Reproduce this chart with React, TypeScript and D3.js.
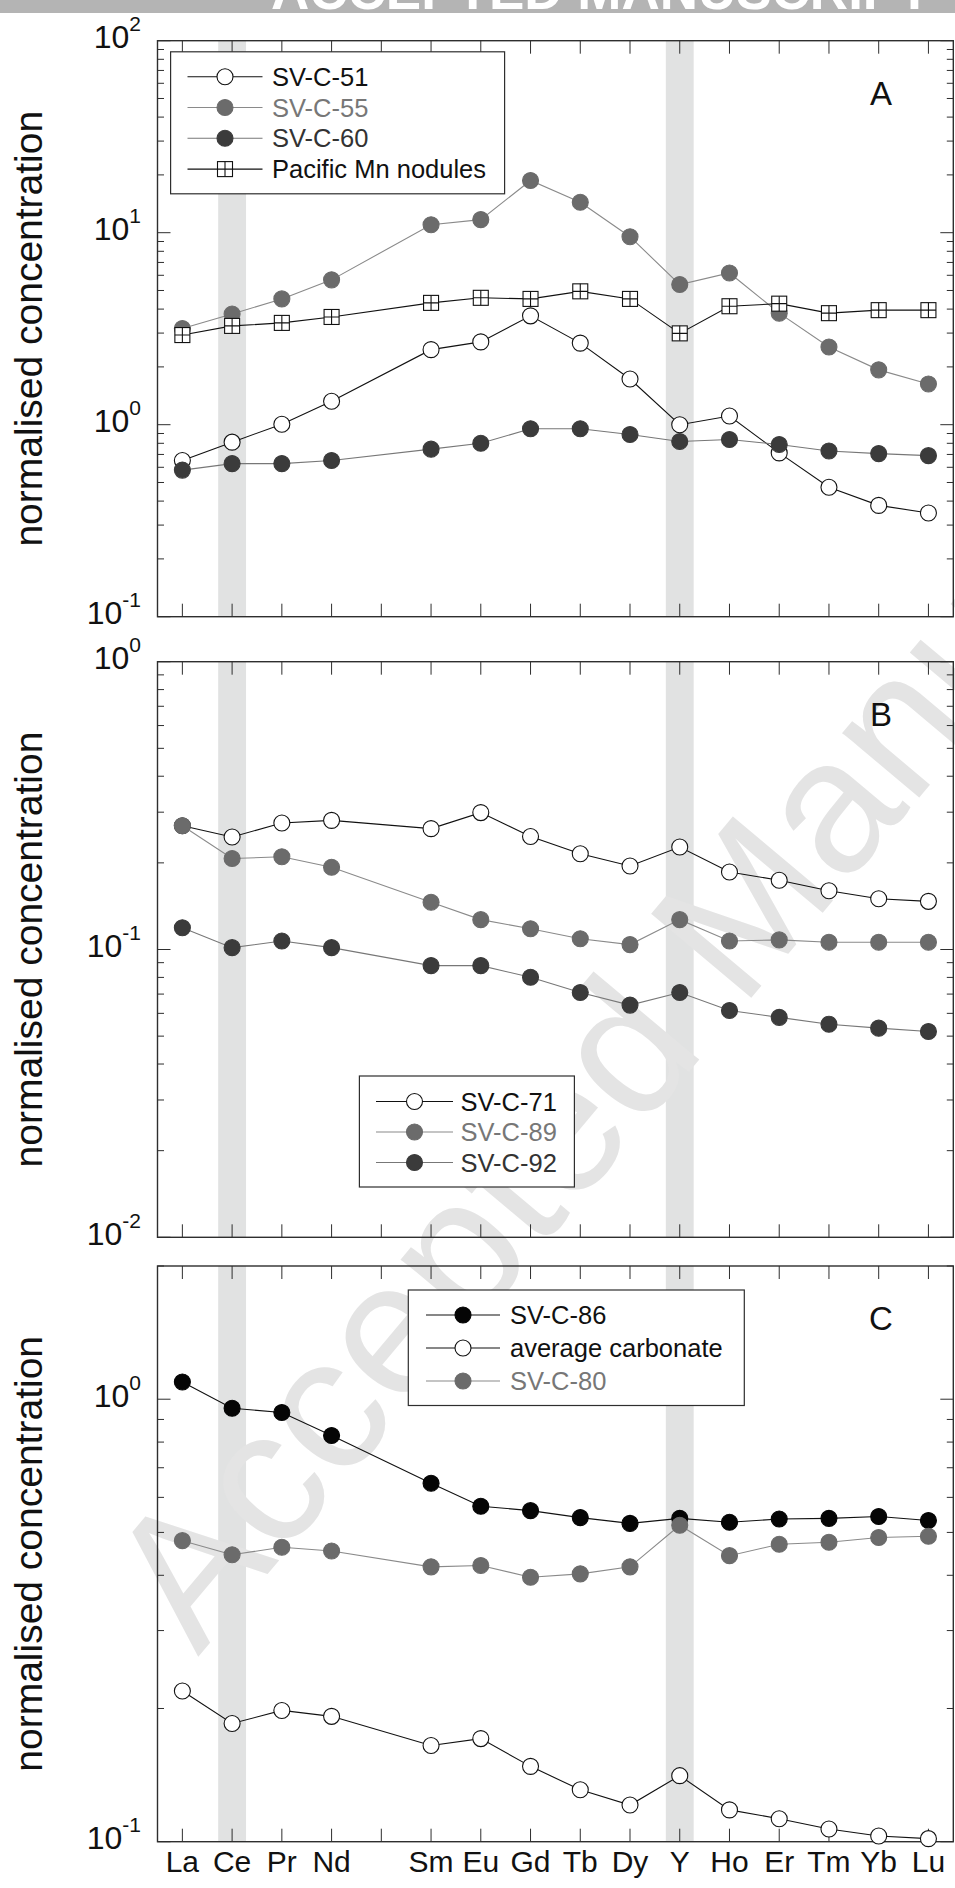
import { useEffect, useRef } from 'react'
import * as d3 from 'd3'

const W = 955, H = 1888
const FONT = 'Liberation Sans, Arial, Helvetica, sans-serif'

// REE + Y order on the x axis (Pm has a tick but no data / label)
const ELEMENTS = ['La', 'Ce', 'Pr', 'Nd', 'Pm', 'Sm', 'Eu', 'Gd', 'Tb', 'Dy', 'Y', 'Ho', 'Er', 'Tm', 'Yb', 'Lu']
const X_LABELS = ['La', 'Ce', 'Pr', 'Nd', '', 'Sm', 'Eu', 'Gd', 'Tb', 'Dy', 'Y', 'Ho', 'Er', 'Tm', 'Yb', 'Lu']
const BANDS = ['Ce', 'Y']

// Panel A
const svc51 = [0.651, 0.811, 1.006, 1.325, null, 2.46, 2.70, 3.69, 2.66, 1.73, 1.0, 1.11, 0.713, 0.472, 0.380, 0.347]
const svc55 = [3.17, 3.77, 4.52, 5.68, null, 11.0, 11.7, 18.7, 14.4, 9.53, 5.37, 6.17, 3.81, 2.54, 1.93, 1.63]
const svc60 = [0.580, 0.627, 0.627, 0.651, null, 0.746, 0.800, 0.952, 0.952, 0.889, 0.818, 0.837, 0.789, 0.730, 0.707, 0.690]
const pacificMn = [2.93, 3.27, 3.39, 3.64, null, 4.31, 4.58, 4.52, 4.95, 4.52, 2.99, 4.14, 4.27, 3.81, 3.95, 3.95]

// Panel B
const svc71 = [0.269, 0.246, 0.275, 0.281, null, 0.263, 0.299, 0.247, 0.215, 0.195, 0.227, 0.186, 0.174, 0.160, 0.150, 0.147]
const svc89 = [0.269, 0.207, 0.210, 0.193, null, 0.146, 0.127, 0.118, 0.109, 0.104, 0.127, 0.107, 0.108, 0.106, 0.106, 0.106]
const svc92 = [0.119, 0.1015, 0.107, 0.1015, null, 0.0879, 0.0879, 0.0801, 0.0709, 0.0641, 0.0709, 0.0614, 0.0581, 0.0550, 0.0533, 0.0519]

// Panel C
const svc86 = [1.094, 0.954, 0.933, 0.828, null, 0.646, 0.573, 0.560, 0.540, 0.524, 0.538, 0.527, 0.536, 0.538, 0.543, 0.532]
const avgCarbonate = [0.219, 0.185, 0.198, 0.192, null, 0.165, 0.171, 0.148, 0.131, 0.121, 0.141, 0.118, 0.1127, 0.1068, 0.103, 0.1016]
const svc80 = [0.479, 0.445, 0.463, 0.454, null, 0.418, 0.421, 0.396, 0.403, 0.418, 0.519, 0.443, 0.470, 0.475, 0.487, 0.490]

type Style = { line: string; fill: string; stroke: string; text: string; square?: boolean }
const OPEN: Style = { line: '#111', fill: '#fff', stroke: '#111', text: '#111' }
const GREY: Style = { line: '#8a8a8a', fill: '#6b6b6b', stroke: '#6b6b6b', text: '#777' }
const DARK: Style = { line: '#777', fill: '#3b3b3b', stroke: '#3b3b3b', text: '#333' }
const BLACK: Style = { line: '#111', fill: '#050505', stroke: '#050505', text: '#111' }
const NODULE: Style = { line: '#111', fill: '#fff', stroke: '#111', text: '#111', square: true }

interface Series { name: string; values: (number | null)[]; style: Style }
interface Panel {
  top: number; bottom: number; domain: [number, number]; exps: number[]; letter: string
  series: Series[]
  legend: { x: number; y: number; w: number; h: number; row0: number; step: number; lx0: number; lx1: number; tx: number }
}

const panels: Panel[] = [
  {
    top: 40.7, bottom: 616.7, domain: [0.1, 100], exps: [2, 1, 0, -1], letter: 'A',
    series: [
      { name: 'SV-C-51', values: svc51, style: OPEN },
      { name: 'SV-C-55', values: svc55, style: GREY },
      { name: 'SV-C-60', values: svc60, style: DARK },
      { name: 'Pacific Mn nodules', values: pacificMn, style: NODULE },
    ],
    legend: { x: 170.6, y: 51.8, w: 334, h: 142, row0: 76.7, step: 30.8, lx0: 187.5, lx1: 262.5, tx: 272 },
  },
  {
    top: 661.7, bottom: 1237.3, domain: [0.01, 1], exps: [0, -1, -2], letter: 'B',
    series: [
      { name: 'SV-C-71', values: svc71, style: OPEN },
      { name: 'SV-C-89', values: svc89, style: GREY },
      { name: 'SV-C-92', values: svc92, style: DARK },
    ],
    legend: { x: 359.4, y: 1076, w: 215, h: 111, row0: 1101.5, step: 30.5, lx0: 376, lx1: 453, tx: 460.5 },
  },
  {
    top: 1266, bottom: 1841.7, domain: [0.1, 2], exps: [0, -1], letter: 'C',
    series: [
      { name: 'SV-C-86', values: svc86, style: BLACK },
      { name: 'average carbonate', values: avgCarbonate, style: OPEN },
      { name: 'SV-C-80', values: svc80, style: GREY },
    ],
    legend: { x: 408.3, y: 1290, w: 336, h: 115.5, row0: 1315, step: 33, lx0: 426, lx1: 500, tx: 510 },
  },
]

const X0 = 157.5, X1 = 953.3
const R = 8

export default function App() {
  const svgRef = useRef<SVGSVGElement>(null)

  useEffect(() => {
    const svg = d3.select(svgRef.current!)
    svg.selectAll('*').remove()

    const x = d3.scaleLinear().domain([-0.5, ELEMENTS.length - 0.5]).range([X0, X1])

    svg.append('rect').attr('width', W).attr('height', H).attr('fill', '#fff')

    // banner
    svg.append('rect').attr('width', W).attr('height', 13).attr('fill', '#b4b4b4')
    svg.append('text').attr('x', 271).attr('y', 8.5)
      .attr('font-family', FONT).attr('font-weight', 'bold').attr('font-size', 53)
      .attr('fill', '#fff').text('ACCEPTED MANUSCRIPT')

    const bandLayer = svg.append('g')
    const wmLayer = svg.append('g')
    const content = svg.append('g')

    // watermark
    wmLayer.append('text')
      .attr('transform', 'translate(198,1657) rotate(-50)')
      .attr('font-family', FONT).attr('font-size', 190).attr('fill', '#e4e4e4')
      .text('Accepted Manuscript')

    panels.forEach(p => {
      const y = d3.scaleLog().domain(p.domain).range([p.bottom, p.top])

      // grey bands at Ce and Y
      BANDS.forEach(b => {
        const i = ELEMENTS.indexOf(b)
        bandLayer.append('rect')
          .attr('x', x(i - 0.28)).attr('width', x(i + 0.28) - x(i - 0.28))
          .attr('y', p.top).attr('height', p.bottom - p.top)
          .attr('fill', '#e1e2e2')
      })

      const g = content.append('g')

      // frame
      g.append('rect').attr('x', X0).attr('y', p.top).attr('width', X1 - X0).attr('height', p.bottom - p.top)
        .attr('fill', 'none').attr('stroke', '#2e2e2e').attr('stroke-width', 1.4)

      // x ticks (inward, top and bottom)
      ELEMENTS.forEach((_, i) => {
        const xi = x(i)
        g.append('line').attr('x1', xi).attr('x2', xi).attr('y1', p.top).attr('y2', p.top + 13)
          .attr('stroke', '#2e2e2e').attr('stroke-width', 1)
        g.append('line').attr('x1', xi).attr('x2', xi).attr('y1', p.bottom).attr('y2', p.bottom - 13)
          .attr('stroke', '#2e2e2e').attr('stroke-width', 1)
      })

      // y ticks (log, left and right)
      y.ticks().forEach(t => {
        const lg = Math.log10(t)
        const major = Math.abs(lg - Math.round(lg)) < 1e-6
        const len = major ? 13 : 6.5
        const yy = y(t)
        g.append('line').attr('x1', X0).attr('x2', X0 + len).attr('y1', yy).attr('y2', yy)
          .attr('stroke', '#2e2e2e').attr('stroke-width', 1)
        g.append('line').attr('x1', X1).attr('x2', X1 - len).attr('y1', yy).attr('y2', yy)
          .attr('stroke', '#2e2e2e').attr('stroke-width', 1)
      })

      // y tick labels 10^n
      p.exps.forEach(e => {
        const t = g.append('text').attr('x', 141).attr('y', y(Math.pow(10, e)) + 7.5)
          .attr('text-anchor', 'end').attr('font-family', FONT).attr('font-size', 32).attr('fill', '#111')
        t.append('tspan').text('10')
        t.append('tspan').attr('dy', -17).attr('font-size', 21).text(String(e))
      })

      // axis title
      g.append('text')
        .attr('transform', `translate(42,${(p.top + p.bottom) / 2}) rotate(-90)`)
        .attr('text-anchor', 'middle').attr('font-family', FONT).attr('font-size', 39).attr('fill', '#111')
        .text('normalised concentration')

      // panel letter
      g.append('text').attr('x', 881).attr('y', p.top + 64)
        .attr('text-anchor', 'middle').attr('font-family', FONT).attr('font-size', 33).attr('fill', '#111')
        .text(p.letter)

      const marker = (sel: d3.Selection<SVGGElement, unknown, null, undefined>, cx: number, cy: number, s: Style) => {
        if (s.square) {
          const h = 7.5
          sel.append('rect').attr('x', cx - h).attr('y', cy - h).attr('width', 2 * h).attr('height', 2 * h)
            .attr('fill', s.fill).attr('stroke', s.stroke).attr('stroke-width', 1.1)
          sel.append('path').attr('d', `M${cx - h},${cy}H${cx + h}M${cx},${cy - h}V${cy + h}`)
            .attr('stroke', s.stroke).attr('stroke-width', 1.1)
        } else {
          sel.append('circle').attr('cx', cx).attr('cy', cy).attr('r', R)
            .attr('fill', s.fill).attr('stroke', s.stroke).attr('stroke-width', 1.1)
        }
      }

      // series
      p.series.forEach(s => {
        const pts = s.values.map((v, i) => ({ i, v })).filter(d => d.v != null) as { i: number; v: number }[]
        const line = d3.line<{ i: number; v: number }>().x(d => x(d.i)).y(d => y(d.v))
        const sg = g.append('g')
        sg.append('path').datum(pts).attr('d', line).attr('fill', 'none')
          .attr('stroke', s.style.line).attr('stroke-width', 1.1)
        pts.forEach(d => marker(sg, x(d.i), y(d.v), s.style))
      })

      // legend
      const L = p.legend
      const lg = g.append('g')
      lg.append('rect').attr('x', L.x).attr('y', L.y).attr('width', L.w).attr('height', L.h)
        .attr('fill', '#fff').attr('stroke', '#2e2e2e').attr('stroke-width', 1.2)
      p.series.forEach((s, r) => {
        const ry = L.row0 + r * L.step
        lg.append('line').attr('x1', L.lx0).attr('x2', L.lx1).attr('y1', ry).attr('y2', ry)
          .attr('stroke', s.style.line).attr('stroke-width', 1.1)
        marker(lg, (L.lx0 + L.lx1) / 2, ry, s.style)
        lg.append('text').attr('x', L.tx).attr('y', ry + 9)
          .attr('font-family', FONT).attr('font-size', 25.5).attr('fill', s.style.text)
          .text(s.name)
      })
    })

    // x tick labels under the last panel
    const last = panels[panels.length - 1]
    X_LABELS.forEach((lab, i) => {
      if (!lab) return
      content.append('text').attr('x', x(i)).attr('y', last.bottom + 30)
        .attr('text-anchor', 'middle').attr('font-family', FONT).attr('font-size', 30).attr('fill', '#111')
        .text(lab)
    })
  }, [])

  return (
    <svg ref={svgRef} width={W} height={H} viewBox={`0 0 ${W} ${H}`}
      style={{ position: 'absolute', left: 0, top: 0, display: 'block' }} />
  )
}
